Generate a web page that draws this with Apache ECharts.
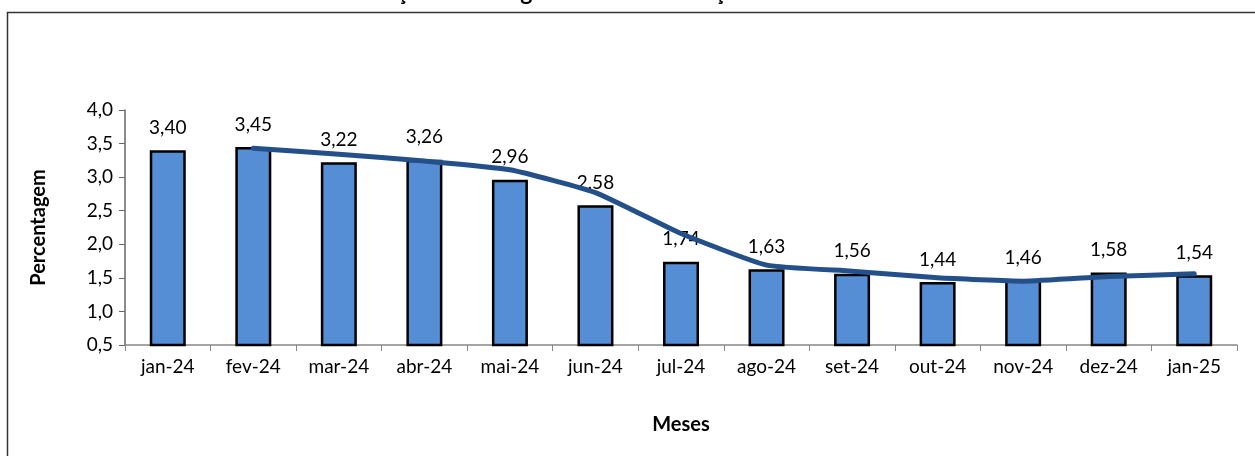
<!DOCTYPE html>
<html>
<head>
<meta charset="utf-8">
<script src="https://cdn.jsdelivr.net/npm/echarts@6/dist/echarts.min.js"></script>
<style>
html,body{margin:0;padding:0;background:#fff;}
#chart{width:1255px;height:456px;}
</style>
</head>
<body>
<div id="chart"></div>
<script>
// meses e taxas
const meses = ['jan-24','fev-24','mar-24','abr-24','mai-24','jun-24','jul-24','ago-24','set-24','out-24','nov-24','dez-24','jan-25'];
const taxa = [3.40,3.45,3.22,3.26,2.96,2.58,1.74,1.63,1.56,1.44,1.46,1.58,1.54];
// linha de tendência (média móvel)
const tendencia = [null,3.43,3.34,3.24,3.11,2.77,2.16,1.69,1.60,1.50,1.45,1.52,1.56];
const yTicks = [0.5,1.0,1.5,2.0,2.5,3.0,3.5,4.0];

const fonte = 'Lato';
let myChart = echarts.init(document.getElementById('chart'));
let option = {
    animation:false,
    textStyle:{fontFamily:fonte},
    title:{
        text:'Variação Homóloga do Índice de Preços no Consumidor',
        left:'center',
        top:-24,
        textStyle:{fontFamily:fonte,fontSize:23,fontWeight:'bold',color:'#000'}
    },
    graphic:[{
        type:'rect',
        shape:{x:7.5,y:12.5,width:1300,height:500},
        style:{fill:null,stroke:'#333',lineWidth:1.5},
        silent:true
    }],
    grid:{left:125,right:18,top:110,bottom:111},
    xAxis:{
        type:'category',
        data:meses,
        name:'Meses',
        nameLocation:'middle',
        nameGap:70,
        nameTextStyle:{fontFamily:fonte,fontSize:20,fontWeight:'bold',color:'#000'},
        axisLine:{lineStyle:{color:'#888',width:1.5}},
        axisTick:{show:true,length:6,lineStyle:{color:'#888'}},
        axisLabel:{color:'#000',fontSize:19,margin:12,fontFamily:fonte}
    },
    yAxis:{
        type:'value',
        min:0.5,
        max:4.0,
        interval:0.5,
        name:'Percentagem',
        nameLocation:'middle',
        nameGap:76,
        nameTextStyle:{fontFamily:fonte,fontSize:20,fontWeight:'bold',color:'#000'},
        axisLine:{show:true,lineStyle:{color:'#666',width:1.5}},
        axisTick:{show:true,length:6,lineStyle:{color:'#666'}},
        splitLine:{show:false},
        axisLabel:{
            color:'#000',fontSize:19,margin:12,fontFamily:fonte,
            formatter:v=>v.toFixed(1).replace('.',',')
        }
    },
    series:[
        {
            name:'Taxa',
            type:'bar',
            data:taxa,
            barWidth:36,
            itemStyle:{color:'#558ED5',borderColor:'#000',borderWidth:2.5},
            label:{
                show:true,
                position:'top',
                distance:13,
                color:'#000',
                fontSize:19,
                fontFamily:fonte,
                formatter:p=>p.value.toFixed(2).replace('.',',')
            },
            z:2
        },
        {
            name:'Tendência',
            type:'line',
            data:tendencia,
            showSymbol:false,
            symbol:'none',
            smooth:0.15,
            lineStyle:{color:'#23508A',width:5,cap:'round',join:'round'},
            z:3
        }
    ]
};
myChart.setOption(option);
</script>
</body>
</html>
